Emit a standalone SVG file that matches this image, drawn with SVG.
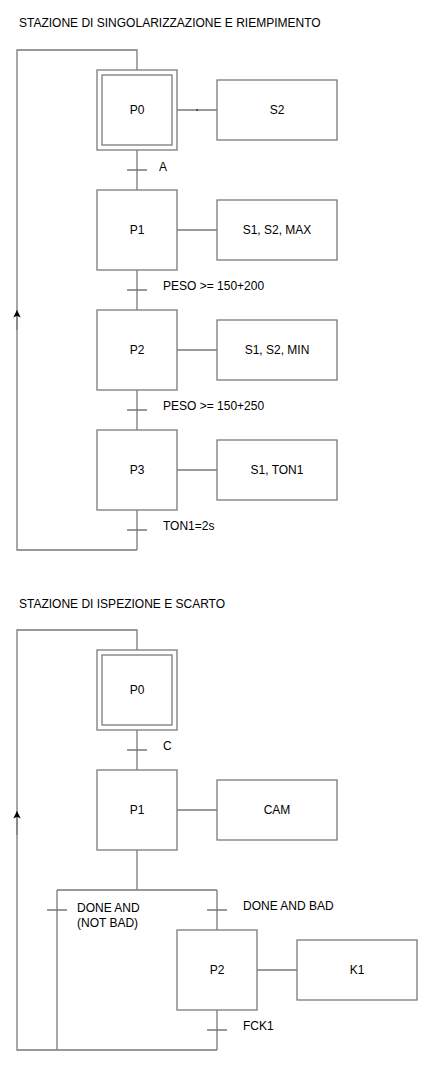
<svg xmlns="http://www.w3.org/2000/svg" width="428" height="1069" viewBox="0 0 428 1069">
<defs>
<style>
.s{fill:#fff;stroke:#7a7a7a;stroke-width:1.3}
.c{fill:none;stroke:#7a7a7a;stroke-width:1.3}
.t{font-family:"Liberation Sans",Arial,sans-serif;font-size:12px;fill:#000}
.m{text-anchor:middle}
</style>
<marker id="ah" viewBox="0 0 10 10" refX="10" refY="5" markerWidth="7.5" markerHeight="7.5" markerUnits="userSpaceOnUse" orient="auto">
<path d="M10,5 L0,0 L2.5,5 L0,10 Z" fill="#000"/>
</marker>
</defs>
<rect width="428" height="1069" fill="#fff"/>
<text class="t" x="19" y="27">STAZIONE DI SINGOLARIZZAZIONE E RIEMPIMENTO</text>
<text class="t" x="19" y="608">STAZIONE DI ISPEZIONE E SCARTO</text>
<g id="connectors">
<!-- station 1 -->
<path class="c" d="M137,550 L17,550 L17,50 L137,50 L137,70"/>
<path class="c" d="M17,330 L17,310" marker-end="url(#ah)"/>
<path class="c" d="M177,110 L217,110"/>
<rect x="196.5" y="109" width="1.2" height="2" fill="#222"/>
<path class="c" d="M137,150 L137,190 M127,170 L147,170"/>
<path class="c" d="M177,230 L217,230"/>
<path class="c" d="M137,270 L137,310 M127,290 L147,290"/>
<path class="c" d="M177,350 L217,350"/>
<path class="c" d="M137,390 L137,430 M127,410 L147,410"/>
<path class="c" d="M177,470 L217,470"/>
<path class="c" d="M137,510 L137,550 M127,530 L147,530"/>
<!-- station 2 -->
<path class="c" d="M217,1050 L17,1050 L17,630 L137,630 L137,650"/>
<path class="c" d="M17,835 L17,811" marker-end="url(#ah)"/>
<path class="c" d="M137,730 L137,770 M127,750 L147,750"/>
<path class="c" d="M177,810 L217,810"/>
<path class="c" d="M137,850 L137,890 M57,890 L217,890"/>
<path class="c" d="M57,890 L57,1050 M47,910 L67,910"/>
<path class="c" d="M217,890 L217,930 M207,910 L227,910"/>
<path class="c" d="M257,970 L297,970"/>
<path class="c" d="M217,1010 L217,1050 M207,1030 L227,1030"/>
</g>
<g id="t1"><text class="t" x="159" y="171">A</text></g>
<g id="t2"><text class="t" x="163" y="290">PESO &gt;= 150+200</text></g>
<g id="t3"><text class="t" x="163" y="410">PESO &gt;= 150+250</text></g>
<g id="t4"><text class="t" x="163" y="530">TON1=2s</text></g>
<g id="t5"><text class="t" x="163" y="750">C</text></g>
<g id="t6"><text class="t" x="77" y="912">DONE AND</text><text class="t" x="77" y="927">(NOT BAD)</text></g>
<g id="t7"><text class="t" x="243" y="910">DONE AND BAD</text></g>
<g id="t8"><text class="t" x="243" y="1030">FCK1</text></g>
<g id="A_P0"><rect class="s" x="97" y="70" width="80" height="80"/><rect class="s" x="102" y="75" width="70" height="70"/><text class="t m" x="137" y="114">P0</text></g>
<g id="A_S2"><rect class="s" x="217" y="80" width="120" height="60"/><text class="t m" x="277" y="114">S2</text></g>
<g id="A_P1"><rect class="s" x="97" y="190" width="80" height="80"/><text class="t m" x="137" y="234">P1</text></g>
<g id="A_A1"><rect class="s" x="217" y="200" width="120" height="60"/><text class="t m" x="277" y="234">S1, S2, MAX</text></g>
<g id="A_P2"><rect class="s" x="97" y="310" width="80" height="80"/><text class="t m" x="137" y="354">P2</text></g>
<g id="A_A2"><rect class="s" x="217" y="320" width="120" height="60"/><text class="t m" x="277" y="354">S1, S2, MIN</text></g>
<g id="A_P3"><rect class="s" x="97" y="430" width="80" height="80"/><text class="t m" x="137" y="474">P3</text></g>
<g id="A_A3"><rect class="s" x="217" y="440" width="120" height="60"/><text class="t m" x="277" y="474">S1, TON1</text></g>
<g id="B_P0"><rect class="s" x="97" y="650" width="80" height="80"/><rect class="s" x="102" y="655" width="70" height="70"/><text class="t m" x="137" y="694">P0</text></g>
<g id="B_P1"><rect class="s" x="97" y="770" width="80" height="80"/><text class="t m" x="137" y="814">P1</text></g>
<g id="B_CAM"><rect class="s" x="217" y="780" width="120" height="60"/><text class="t m" x="277" y="814">CAM</text></g>
<g id="B_P2"><rect class="s" x="177" y="930" width="80" height="80"/><text class="t m" x="217" y="974">P2</text></g>
<g id="B_K1"><rect class="s" x="297" y="940" width="120" height="60"/><text class="t m" x="357" y="974">K1</text></g>
</svg>
